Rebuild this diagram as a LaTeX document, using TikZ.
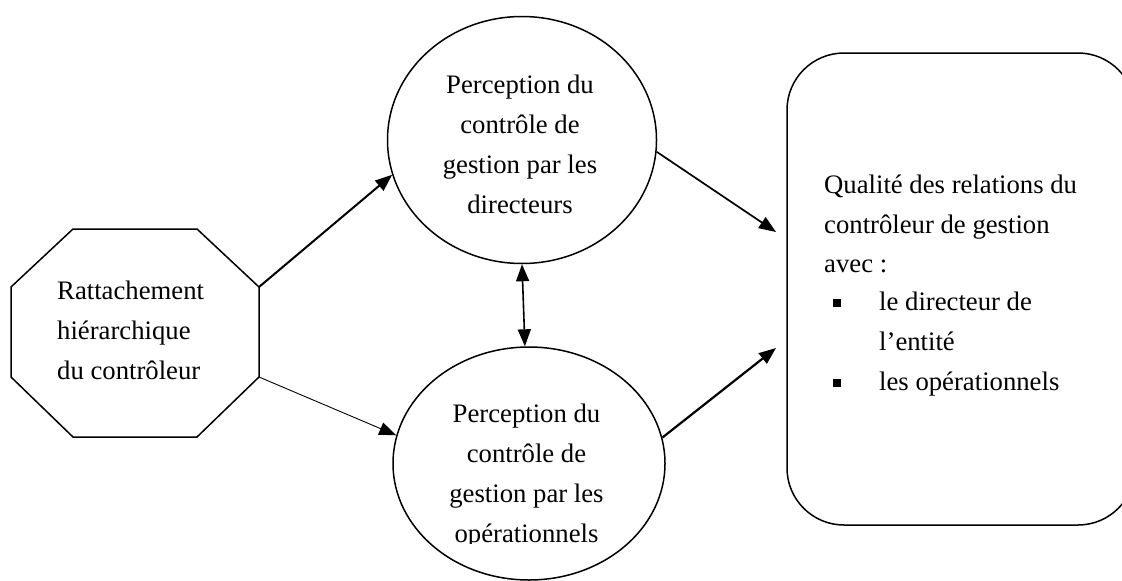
\documentclass[tikz,border=0pt]{standalone}
\usepackage{fontspec}
\setmainfont{Liberation Serif}
\usetikzlibrary{shapes.geometric,arrows.meta}
\begin{document}
\begin{tikzpicture}[x=1pt,y=-1pt,
  txt/.style={inner sep=0pt,font=\fontsize{26.7}{40}\selectfont},
  lc/.style={txt,anchor=base},
  ll/.style={txt,anchor=base west},
  shp/.style={draw,line width=1.5pt},
  tip/.tip={Triangle[length=17pt,width=13pt]},
  arr/.style={-tip,line width=#1},
  arr/.default=1.6pt,
  bul/.style={fill,inner sep=0pt,minimum size=7.5pt}]
\useasboundingbox (0,0) rectangle (1122,581);
\clip (0,0) rectangle (1122,581);
% octagon
\coordinate (o1) at (73,229);
\coordinate (o2) at (197,229);
\coordinate (o3) at (259,287);
\coordinate (o4) at (259,377);
\coordinate (o5) at (197,437);
\coordinate (o6) at (73,437);
\coordinate (o7) at (11,377);
\coordinate (o8) at (11,287);
\draw[line width=1.5pt,line join=miter] (o1)--(o2)--(o3)--(o4)--(o5)--(o6)--(o7)--(o8)--cycle;
\node[ll] (oa) at (57,299) {Rattachement};
\node[ll] (ob) at (57,339) {hiérarchique};
\node[ll] (oc) at (57,379) {du contrôleur};
% ellipses
\node[shp,ellipse,minimum width=269pt,minimum height=247pt,inner sep=0pt] (e1) at (522,140) {};
\node[shp,ellipse,minimum width=272pt,minimum height=233pt,inner sep=0pt] (e2) at (529,463.5) {};
\node[lc] (e1a) at (520,93) {Perception du};
\node[lc] (e1b) at (520,133) {contrôle de};
\node[lc] (e1c) at (520,173) {gestion par les};
\node[lc] (e1d) at (520,213) {directeurs};
\node[lc] (e2a) at (526.5,422) {Perception du};
\node[lc] (e2b) at (526.5,462) {contrôle de};
\node[lc] (e2c) at (526.5,502) {gestion par les};
\begin{scope}
\clip (380,500) rectangle (680,543.5);
\node[lc] (e2d) at (526.5,542) {opérationnels};
\end{scope}
% rounded box
\node[shp,rectangle,rounded corners=57pt,minimum width=348pt,minimum height=472pt,inner sep=0pt] (box) at (961,289) {};
\node[ll] (q1) at (824,193) {Qualité des relations du};
\node[ll] (q2) at (824,233) {contrôleur de gestion};
\node[ll] (q3) at (824,272) {avec :};
\node[bul] (b1) at (837,303) {};
\node[ll] (q4) at (879,310) {le directeur de};
\node[ll] (q5) at (879,350) {l’entité};
\node[bul] (b2) at (837,383) {};
\node[ll] (q6) at (879,390) {les opérationnels};
% arrow ends near box
\coordinate (t1) at (776,232);
\coordinate (t2) at (776,348);
% connectors
\draw[arr=2pt] (o3) -- (e1.195);
\draw[arr=0.9pt] (o4) -- (e2.168);
\draw[tip-tip,line width=1.6pt] (e1.south) -- (e2.92);
\draw[arr=1.7pt] (e1.-5) -- (t1);
\draw[arr=2.2pt] (e2.11) -- (t2);
\end{tikzpicture}
\end{document}
